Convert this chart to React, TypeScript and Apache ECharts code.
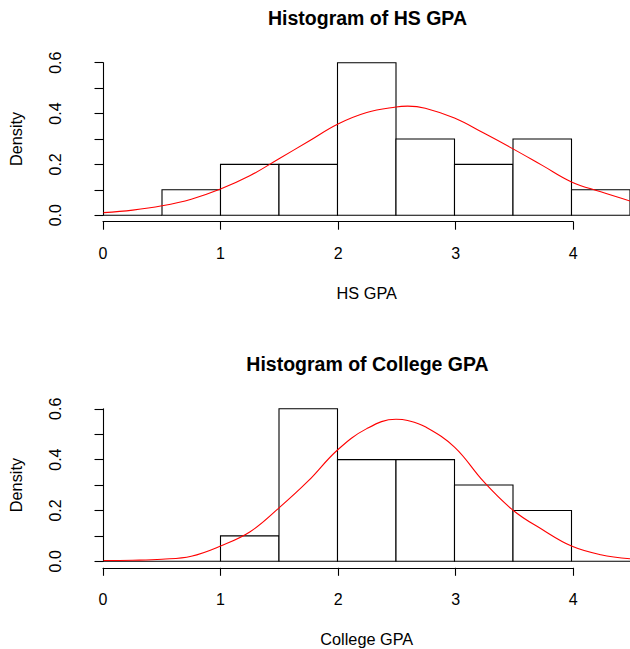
import React, { useEffect, useRef } from "react";
import * as echarts from "echarts";

// Histogram bin edges (width 0.5) shared by both panels
const BREAKS = [0, 0.5, 1, 1.5, 2, 2.5, 3, 3.5, 4, 4.5];
// Density of each bin
const HS_DENSITY = [0, 0.1, 0.2, 0.2, 0.6, 0.3, 0.2, 0.3, 0.1];
const COLLEGE_DENSITY = [0, 0, 0.1, 0.6, 0.4, 0.4, 0.3, 0.2, 0];

// Fitted normal density curves, sampled along the GPA range
const CURVE_X = [0, 0.25, 0.5, 0.75, 1, 1.25, 1.5, 1.75, 2, 2.25, 2.5, 2.6, 2.75, 3, 3.25, 3.5, 3.75, 4, 4.25, 4.5];
const HS_CURVE = [0.01, 0.02, 0.037, 0.063, 0.103, 0.155, 0.222, 0.29, 0.358, 0.404, 0.426, 0.429, 0.421, 0.382, 0.323, 0.261, 0.196, 0.131, 0.092, 0.056];
const COLLEGE_CURVE = [0.003, 0.004, 0.008, 0.02, 0.06, 0.115, 0.21, 0.316, 0.438, 0.522, 0.559, 0.554, 0.529, 0.449, 0.313, 0.201, 0.125, 0.06, 0.026, 0.01];

// Axis ticks
const X_TICKS = [0, 1, 2, 3, 4];
const Y_LABELS = ["0.0", "0.2", "0.4", "0.6"];

const FONT = "'Liberation Sans', Arial, Helvetica, sans-serif";

const histRender = (params: any, api: any) => {
  const x0 = api.value(0);
  const x1 = api.value(1);
  const d = api.value(2);
  const a = api.coord([x0, 0]);
  const b = api.coord([x0, d]);
  const c = api.coord([x1, d]);
  const e = api.coord([x1, 0]);
  return {
    type: "polygon",
    shape: { points: [a, b, c, e] },
    style: { fill: "#ffffff", stroke: "#000000", lineWidth: 1.1 },
  };
};

const panel = (idx: number, top: number, title: string, xName: string) => {
  const plotH = 152.5;
  const axisTop = top + plotH + 5.5;
  return {
    title: {
      text: title,
      left: 367.5,
      top: top - 54.5,
      padding: 0,
      textAlign: "center",
      textStyle: { fontFamily: FONT, fontSize: 19.5, fontWeight: "bold", color: "#000" },
    },
    grids: [
      { left: 103, top, width: 529, height: plotH },
      { left: 103, top: axisTop, width: X_TICKS[X_TICKS.length - 1] * (529 / 4.5), height: 1 },
    ],
    xAxes: [
      {
        gridIndex: idx * 2,
        type: "value",
        min: 0,
        max: 4.5,
        axisLine: { show: false },
        axisTick: { show: false },
        axisLabel: { show: false },
        splitLine: { show: false },
        name: xName,
        nameLocation: "middle",
        nameGap: 70,
        nameTextStyle: { fontFamily: FONT, fontSize: 16.3, color: "#000" },
      },
      {
        gridIndex: idx * 2 + 1,
        type: "value",
        min: X_TICKS[0],
        max: X_TICKS[X_TICKS.length - 1],
        interval: 1,
        axisLine: { show: true, lineStyle: { color: "#000", width: 1.1 } },
        axisTick: { show: true, length: 8, lineStyle: { color: "#000", width: 1.1 } },
        axisLabel: { margin: 24, fontFamily: FONT, fontSize: 16, color: "#000" },
        splitLine: { show: false },
      },
    ],
    yAxes: [
      {
        gridIndex: idx * 2,
        type: "value",
        min: 0,
        max: 0.6,
        interval: 0.1,
        offset: 21.5,
        axisLine: { show: true, lineStyle: { color: "#000", width: 1.1 } },
        axisTick: { show: true, length: 9, lineStyle: { color: "#000", width: 1.1 } },
        axisLabel: {
          rotate: 90,
          margin: 19,
          fontFamily: FONT,
          fontSize: 16,
          color: "#000",
          formatter: (v: number) => {
            const s = v.toFixed(1);
            return Y_LABELS.includes(s) ? s : "";
          },
        },
        splitLine: { show: false },
        name: "Density",
        nameLocation: "middle",
        nameGap: 58,
        nameRotate: 90,
        nameTextStyle: { fontFamily: FONT, fontSize: 16.3, color: "#000" },
      },
      { gridIndex: idx * 2 + 1, type: "value", min: 0, max: 1, show: false },
    ],
  };
};

export default function App() {
  const ref = useRef<HTMLDivElement>(null);

  useEffect(() => {
    if (!ref.current) return;
    const chart = echarts.init(ref.current, undefined, { renderer: "svg" });
    const p0 = panel(0, 62.7, "Histogram of HS GPA", "HS GPA");
    const p1 = panel(1, 408.8, "Histogram of College GPA", "College GPA");

    const histData = (dens: number[]) => dens.map((d, i) => [BREAKS[i], BREAKS[i + 1], d]);
    const curveData = (ys: number[]) => CURVE_X.map((x, i) => [x, ys[i]]);

    chart.setOption({
      animation: false,
      backgroundColor: "#ffffff",
      title: [p0.title, p1.title],
      grid: [...p0.grids, ...p1.grids],
      xAxis: [...p0.xAxes, ...p1.xAxes],
      yAxis: [...p0.yAxes, ...p1.yAxes],
      series: [
        {
          type: "custom",
          xAxisIndex: 0,
          yAxisIndex: 0,
          clip: false,
          renderItem: histRender,
          data: histData(HS_DENSITY),
        },
        {
          type: "line",
          xAxisIndex: 0,
          yAxisIndex: 0,
          smooth: 0.4,
          showSymbol: false,
          lineStyle: { color: "#ff0000", width: 1.1 },
          data: curveData(HS_CURVE),
        },
        {
          type: "custom",
          xAxisIndex: 2,
          yAxisIndex: 2,
          clip: false,
          renderItem: histRender,
          data: histData(COLLEGE_DENSITY),
        },
        {
          type: "line",
          xAxisIndex: 2,
          yAxisIndex: 2,
          smooth: 0.4,
          showSymbol: false,
          lineStyle: { color: "#ff0000", width: 1.1 },
          data: curveData(COLLEGE_CURVE),
        },
      ],
    });
    return () => chart.dispose();
  }, []);

  return (
    <div
      ref={ref}
      style={{ position: "fixed", left: 0, top: 0, width: 630, height: 649, background: "#fff" }}
    />
  );
}
